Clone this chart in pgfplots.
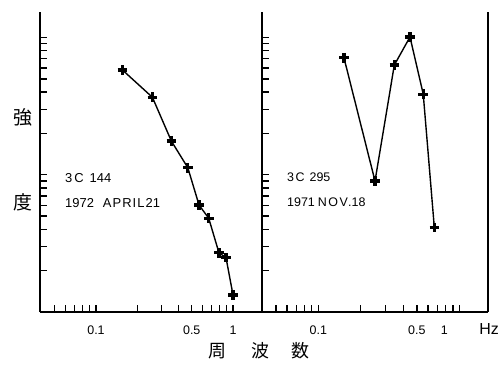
\documentclass[border=0pt]{standalone}
\usepackage{fontspec}
\setmainfont{Liberation Sans}
\newfontfamily\cjk{Noto Sans CJK JP}
\usepackage{pgfplots}
\pgfplotsset{compat=1.18}
\begin{document}
\begin{tikzpicture}
\path[use as bounding box] (0bp,0bp) rectangle (503bp,-368bp);
% left panel: 3C 144
\begin{axis}[scale only axis, height=300bp, width=222bp, at={(40bp,-312bp)}, anchor=south west,
  xmode=log, ymode=log, ymin=1, ymax=153.5,
  xmin=0.03902, xmax=1.628,
  axis x line*=bottom, axis y line*=left,
  axis line style={line width=2bp},
  tick align=inside, major tick length=7bp, minor tick length=7bp,
  every tick/.style={black, line width=1.3bp},
  ytick={2,3,4,5,6,7,8,9,10,20,30,40,50,60,70,80,90,100}, yticklabels={},
  minor xtick={0.05,0.06,0.07,0.08,0.09,0.2,0.3,0.4,0.6,0.7,0.8,0.9},
  xtick={0.1,0.5,1}, xticklabels={0.1,0.5,1},
  xticklabel style={font=\fontsize{12.5}{13}\selectfont, anchor=base, yshift=-22bp},
  clip=false]
\addplot[black, line width=1.4bp, mark=+, mark size=4.8bp, mark options={line width=3.2bp}] coordinates {(0.156,58.0) (0.258,36.7) (0.355,17.6) (0.468,11.25) (0.565,6.02) (0.665,4.82) (0.79,2.70) (0.889,2.49) (1.0,1.33)};
\end{axis}
% right panel: 3C 295
\begin{axis}[scale only axis, height=300bp, width=225.7bp, at={(262bp,-312bp)}, anchor=south west,
  xmode=log, ymode=log, ymin=1, ymax=153.5,
  xmin=0.03988, xmax=1.59,
  axis x line*=bottom, axis y line*=left,
  axis line style={line width=2bp},
  tick align=inside, major tick length=7bp, minor tick length=7bp,
  every tick/.style={black, line width=1.3bp},
  ytick={2,3,4,5,6,7,8,9,10,20,30,40,50,60,70,80,90,100}, yticklabels={},
  minor xtick={0.05,0.06,0.07,0.08,0.09,0.2,0.3,0.4,0.6,0.7,0.8,0.9},
  xtick={0.1,0.5}, xticklabels={0.1,0.5},
  extra x ticks={1}, extra x tick labels={1},
  extra x tick style={xticklabel style={xshift=-15bp}},
  xticklabel style={font=\fontsize{12.5}{13}\selectfont, anchor=base, yshift=-22bp},
  clip=false]
\addplot[black, line width=1.4bp, mark=+, mark size=4.8bp, mark options={line width=3.2bp}] coordinates {(0.152,71.3) (0.2525,9.0) (0.346,63.0) (0.447,101) (0.555,38.7) (0.665,4.14)};
\draw[line width=2bp] (rel axis cs:1,0) -- (rel axis cs:1,1);
\end{axis}
% annotations
\node[anchor=west, inner sep=0pt, font=\fontsize{13}{14}\selectfont] at (65bp,-178bp) {3\hspace{2bp}C\hspace{6bp}144};
\node[anchor=west, inner sep=0pt, font=\fontsize{13}{14}\selectfont] at (65bp,-203bp) {1972\hspace{9bp}{\addfontfeature{LetterSpace=8}APRIL}\hspace{1bp}21};
\node[anchor=west, inner sep=0pt, font=\fontsize{12.5}{13}\selectfont] at (287bp,-177bp) {3\hspace{1.5bp}C\hspace{5bp}295};
\node[anchor=west, inner sep=0pt, font=\fontsize{12.5}{13}\selectfont] at (287bp,-202bp) {1971\hspace{3bp}{\addfontfeature{LetterSpace=12}NOV.}18};
\node[font=\cjk\fontsize{19}{19}\selectfont] at (23bp,-117bp) {強};
\node[font=\cjk\fontsize{19}{19}\selectfont] at (23bp,-202bp) {度};
\node[font=\cjk\fontsize{18}{18}\selectfont] at (217bp,-351bp) {周};
\node[font=\cjk\fontsize{18}{18}\selectfont] at (260bp,-351bp) {波};
\node[font=\cjk\fontsize{18}{18}\selectfont] at (300bp,-351bp) {数};
\node[anchor=base, inner sep=0pt, font=\fontsize{16}{16}\selectfont] at (489bp,-334bp) {Hz};
\end{tikzpicture}
\end{document}
